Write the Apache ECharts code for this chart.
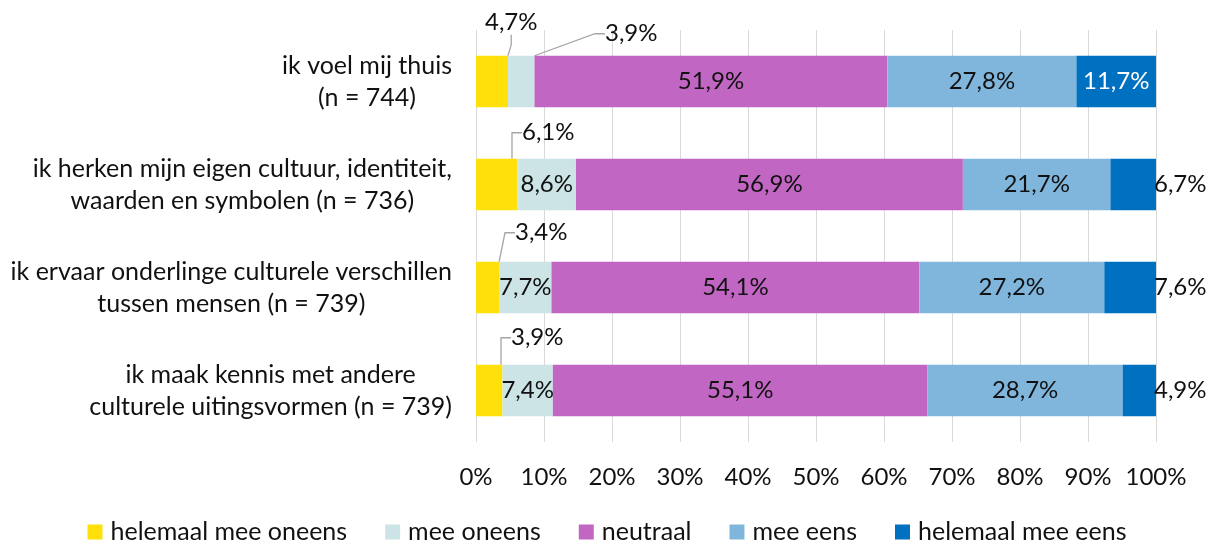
<!DOCTYPE html>
<html>
<head>
<meta charset="utf-8">
<script src="https://cdn.jsdelivr.net/npm/echarts@6/dist/echarts.min.js"></script>
<style>
  html, body { margin: 0; padding: 0; background: #ffffff; }
  #chart { width: 1214px; height: 543px; }
</style>
</head>
<body>
<div id="chart"></div>
<script>
// Statements (two-line category labels)
const statements = [
  'ik voel mij thuis\n(n = 744)',
  'ik herken mijn eigen cultuur, identiteit,\nwaarden en symbolen (n = 736)',
  'ik ervaar onderlinge culturele verschillen\ntussen mensen (n = 739)',
  'ik maak kennis met andere\nculturele uitingsvormen (n = 739)'
];

// Answer categories (legend order)
const answers = ['helemaal mee oneens', 'mee oneens', 'neutraal', 'mee eens', 'helemaal mee eens'];

// Shares per statement, in %
const stronglyDisagree = [4.7, 6.1, 3.4, 3.9];
const disagree         = [3.9, 8.6, 7.7, 7.4];
const neutral          = [51.9, 56.9, 54.1, 55.1];
const agree            = [27.8, 21.7, 27.2, 28.7];
const stronglyAgree    = [11.7, 6.7, 7.6, 4.9];

// Value axis range and step (%)
const axisMin = 0;
const axisMax = 100;
const axisStep = 10;

const FONT = 'Lato, "Liberation Sans", sans-serif';
const FS_TEXT = 25;   // category names and legend
const FS_NUM = 24;    // percentages
const TEXT = '#111111';
const colors = ['#FFE00A', '#CCE4E5', '#C266C3', '#80B6DC', '#0070C0'];

const pct = v => v.toFixed(1).replace('.', ',') + '%';

// Small segments get a callout above the bar: [dx from bar left, dy from bar top]
const calloutShift = {
  0: [[9, -33], [46, -26], [39, -29], [35, -27]],
  1: [[97, -22]]
};

function calloutLayout(seriesIdx) {
  return function (p) {
    const shift = (calloutShift[seriesIdx] || [])[p.dataIndex];
    if (!shift) return {};
    return {
      x: p.rect.x + shift[0],
      y: p.rect.y + shift[1],
      align: 'left',
      verticalAlign: 'middle'
    };
  };
}

const seriesValues = [stronglyDisagree, disagree, neutral, agree, stronglyAgree];

function buildData(seriesIdx, values) {
  return values.map((v, i) => {
    const item = { value: v };
    const hasCallout = !!(calloutShift[seriesIdx] || [])[i];
    if (hasCallout) {
      item.labelLine = { show: true };
    }
    if (seriesIdx === 4) {
      if (v < 10) {
        item.label = { position: 'right', distance: -2, color: TEXT };
      } else {
        item.label = { position: 'inside', color: '#ffffff' };
      }
    }
    return item;
  });
}

const series = seriesValues.map((values, s) => ({
  name: answers[s],
  type: 'bar',
  stack: 'total',
  barCategoryGap: '50%',
  itemStyle: { color: colors[s] },
  data: buildData(s, values),
  label: {
    show: true,
    position: 'inside',
    formatter: p => pct(p.value),
    fontFamily: FONT,
    fontSize: FS_NUM,
    color: TEXT
  },
  labelLine: {
    show: false,
    length2: 10,
    lineStyle: { color: '#A6A6A6', width: 1.3 }
  },
  labelLayout: calloutLayout(s),
  emphasis: { disabled: true }
}));

const chart = echarts.init(document.getElementById('chart'), null, { renderer: 'canvas' });

chart.setOption({
  animation: false,
  backgroundColor: '#ffffff',
  textStyle: { fontFamily: FONT },
  grid: { left: 476, right: 58, top: 30, bottom: 101, containLabel: false },
  legend: {
    data: answers,
    left: 'center',
    top: 519,
    padding: 0,
    icon: 'rect',
    itemWidth: 15,
    itemHeight: 15,
    itemGap: 38,
    textStyle: {
      fontFamily: FONT, fontSize: FS_TEXT, lineHeight: 26, color: TEXT,
      padding: [0, 0, 0, 3]
    }
  },
  xAxis: {
    type: 'value',
    min: axisMin,
    max: axisMax,
    interval: axisStep,
    axisLine: { show: false },
    axisTick: { show: false },
    splitLine: { show: true, lineStyle: { color: '#D9D9D9', width: 1 } },
    axisLabel: {
      formatter: '{value}%',
      fontFamily: FONT,
      fontSize: FS_NUM,
      color: TEXT,
      margin: 23
    }
  },
  yAxis: {
    type: 'category',
    inverse: true,
    data: statements,
    axisLine: { show: false },
    axisTick: { show: false },
    axisLabel: {
      margin: 24,
      align: 'right',
      formatter: v => v.split('\n').map(line => '{c|' + line + '}').join('\n'),
      rich: {
        c: { align: 'center', fontFamily: FONT, fontSize: FS_TEXT, lineHeight: 32, color: TEXT }
      }
    }
  },
  series: series
});
</script>
</body>
</html>
